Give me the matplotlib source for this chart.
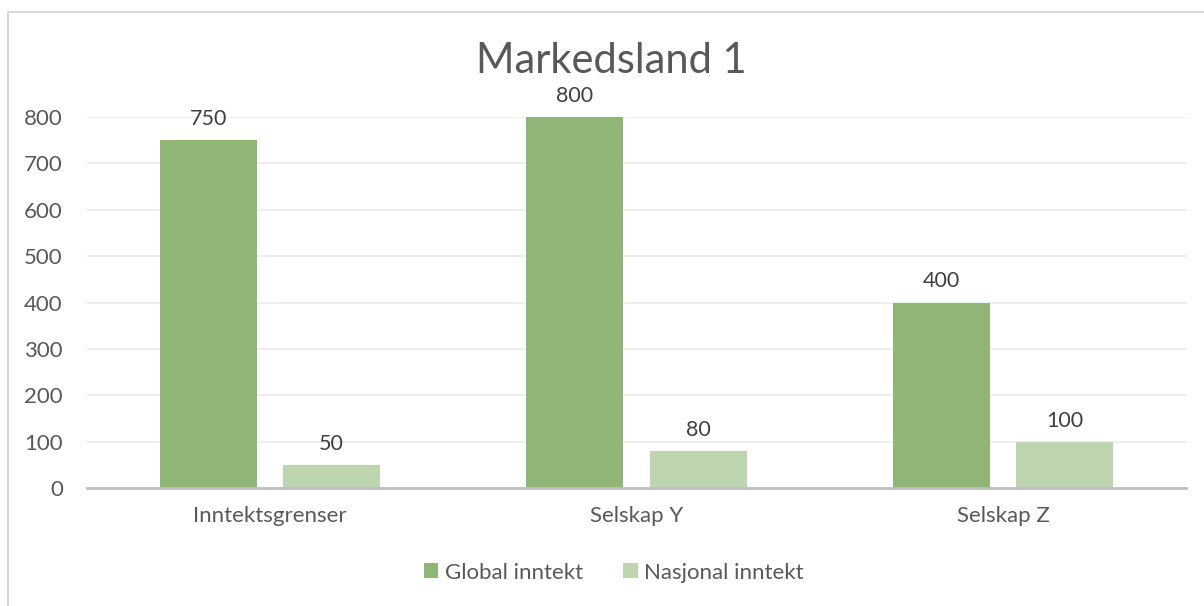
import numpy as np
import matplotlib.pyplot as plt
from matplotlib.patches import Rectangle

categories = ['Inntektsgrenser', 'Selskap Y', 'Selskap Z']
global_inntekt = [750, 800, 400]
nasjonal_inntekt = [50, 80, 100]
series = {
    'Global inntekt': global_inntekt,
    'Nasjonal inntekt': nasjonal_inntekt,
}
colors = ['#90B576', '#BDD6AF']

plt.rcParams['font.family'] = ['Lato', 'DejaVu Sans']

fig = plt.figure(figsize=(12.04, 6.06), dpi=100)
# chart border (left/top visible)
fig.patches.append(Rectangle((8 / 1204, -0.1), 1.2, 1 - 12 / 606 + 0.1,
                             transform=fig.transFigure, fill=False,
                             edgecolor='#D9D9D9', linewidth=1.5))

ax = fig.add_axes([86.5 / 1204, 0.1947, 1100 / 1204, 0.612])

x = np.arange(len(categories))
width = 0.265
offsets = [-0.168, 0.168]

for (name, vals), off, col in zip(series.items(), offsets, colors):
    rects = ax.bar(x + off, vals, width, color=col, label=name, zorder=3)
    ax.bar_label(rects, padding=8, fontsize=15.5, color='#404040')

ax.set_xlim(-0.5, len(categories) - 0.5)
ax.set_ylim(0, 800)
ax.set_yticks(range(0, 801, 100))
ax.set_xticks(x, categories)

ax.grid(axis='y', color='#EBEBEB', linewidth=1.2, zorder=0)
for s in ['top', 'right', 'left']:
    ax.spines[s].set_visible(False)
ax.spines['bottom'].set_color('#BFBFBF')
ax.spines['bottom'].set_linewidth(2)
ax.spines['bottom'].set_zorder(4)
ax.tick_params(axis='both', length=0, labelsize=16, colors='#595959')
ax.tick_params(axis='y', pad=17)
ax.tick_params(axis='x', pad=13)

fig.text(0.508, 0.90, 'Markedsland 1', ha='center', va='center',
         fontsize=30, color='#595959')

fig.legend(loc='center', bbox_to_anchor=(0.51, 0.055), ncols=2, frameon=False,
           fontsize=16, labelcolor='#595959', handlelength=0.65, handleheight=0.65,
           handletextpad=0.3, columnspacing=1.8)

fig.savefig('out.png', dpi=100)
